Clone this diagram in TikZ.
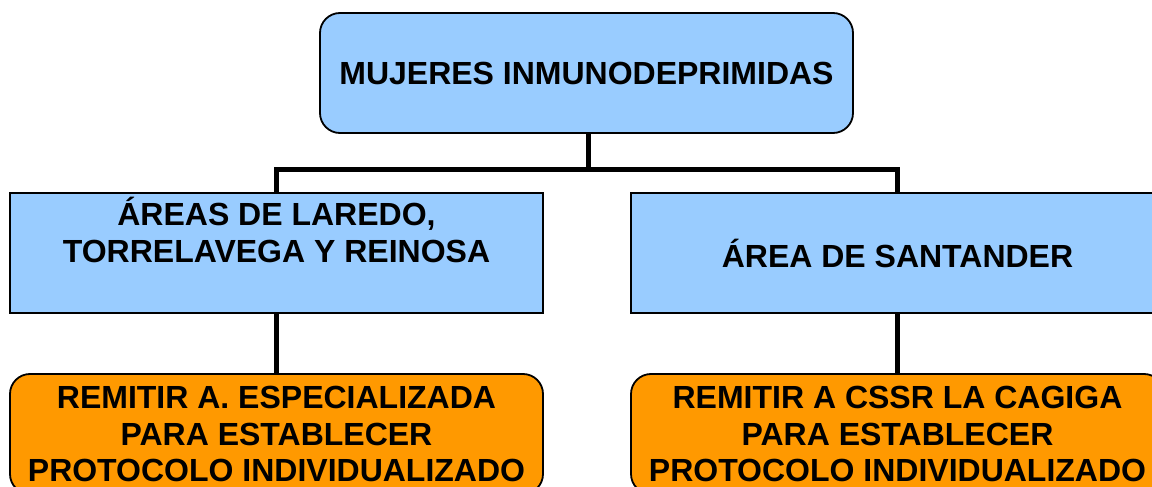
\documentclass[tikz,border=0pt]{standalone}
\usepackage{fontspec}
\setmainfont{Liberation Sans}
\definecolor{boxblue}{HTML}{99CCFF}
\definecolor{boxorange}{HTML}{FF9900}
\begin{document}
\begin{tikzpicture}[x=1pt,y=-1pt,
  txt/.style={font=\fontsize{32}{36.8}\selectfont\bfseries, align=center, text=black},
  box/.style={txt, draw=black, line width=1.8pt, minimum width=533pt, minimum height=120pt, inner sep=0pt},
  bluebox/.style={box, fill=boxblue},
  roundblue/.style={bluebox, rounded corners=20pt},
  orangebox/.style={box, fill=boxorange, rounded corners=20pt},
  conn/.style={draw=black, line width=5pt}]
\useasboundingbox (0,0) rectangle (1152,487);
\clip (0,0) rectangle (1152,487);
\fill[white] (0,0) rectangle (1152,487);
\node[roundblue] (top) at (586.5,73) {MUJERES INMUNODEPRIMIDAS};
\node[bluebox] (lb) at (276.5,253) {ÁREAS DE LAREDO,\\TORRELAVEGA Y REINOSA\\[10pt]\mbox{}};
\node[bluebox] (rb) at (897.5,253) {ÁREA DE SANTANDER};
\node[orangebox] (lo) at (276.5,434) {REMITIR A. ESPECIALIZADA\\PARA ESTABLECER\\PROTOCOLO INDIVIDUALIZADO};
\node[orangebox] (ro) at (897.5,434) {REMITIR A CSSR LA CAGIGA\\PARA ESTABLECER\\PROTOCOLO INDIVIDUALIZADO};
\coordinate (bus) at (588,169);
\draw[conn] (top.south -| bus) -- (bus);
\draw[conn, line join=miter] (lb.north) |- (bus) -| (rb.north);
\draw[conn] (lb.south) -- (lo.north);
\draw[conn] (rb.south) -- (ro.north);
\end{tikzpicture}
\end{document}
